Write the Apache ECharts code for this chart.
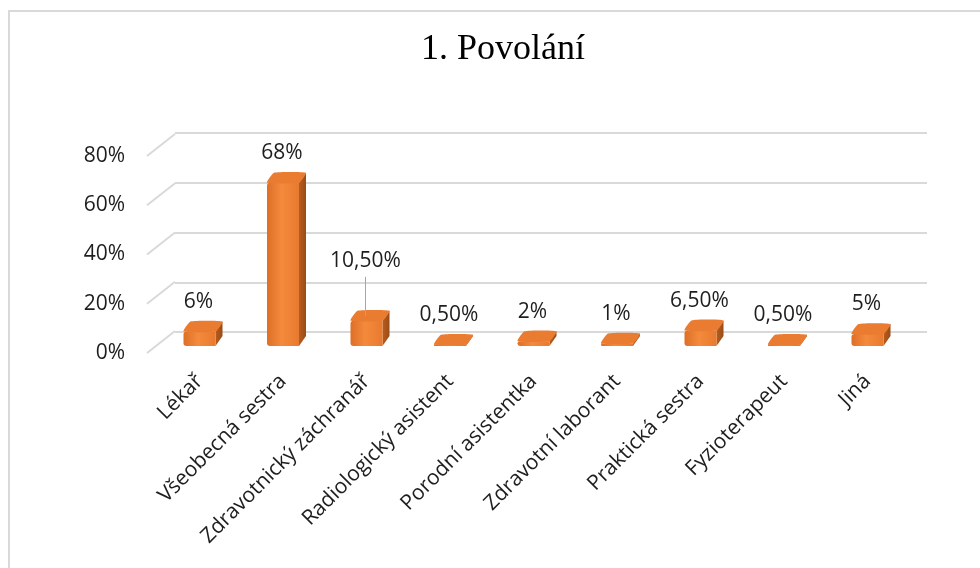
<!DOCTYPE html>
<html>

<head>
    <meta charset="utf-8" />
    <script src="https://cdn.jsdelivr.net/npm/echarts@6/dist/echarts.min.js"></script>
    <style>
        body { margin: 0; background: #fff; }
        #frame { position: absolute; left: 8px; top: 10px; width: 1000px; height: 600px; border: 2px solid #d9d9d9; box-sizing: border-box; }
        #main { position: absolute; left: 0; top: 0; width: 980px; height: 568px; }
    </style>
</head>

<body>
    <div id="frame"></div>
    <div id="main"></div>
    <script>
        // hodnoty z grafu
        var categories = ['Lékař', 'Všeobecná sestra', 'Zdravotnický záchranář', 'Radiologický asistent',
            'Porodní asistentka', 'Zdravotní laborant', 'Praktická sestra', 'Fyzioterapeut', 'Jiná'];
        var shares = [0.06, 0.68, 0.105, 0.005, 0.02, 0.01, 0.065, 0.005, 0.05];
        var valueLabels = ['6%', '68%', '10,50%', '0,50%', '2%', '1%', '6,50%', '0,50%', '5%'];
        var yTicks = [0, 0.2, 0.4, 0.6, 0.8];

        var font = '"Open Sans", sans-serif';
        var textColor = '#1e1e1e';
        var gridColor = '#d9d9d9';
        // popisek 10,50% je v originale posunuty nahoru s vodici carou
        var liftedIndex = 2, liftBy = 30;

        var myChart = echarts.init(document.getElementById('main'));

        function renderBar(params, api) {
            var i = api.value(0), v = api.value(1);
            var base = api.coord([i, 0]);
            var top = api.coord([i, v]);
            var w = 32, dx = 7, dy = -10;
            var x0 = base[0] - w / 2, x1 = base[0] + w / 2;
            var yb = base[1], yt = top[1];
            var children = [
                {
                    type: 'polygon',
                    shape: { points: [[x1, yb], [x1 + dx, yb + dy], [x1 + dx, yt + dy], [x1, yt]] },
                    style: {
                        fill: new echarts.graphic.LinearGradient(0, 0, 1, 0, [
                            { offset: 0, color: '#b85c1e' }, { offset: 1, color: '#9a4c16' }])
                    }
                },
                {
                    type: 'rect',
                    shape: { x: x0, y: yt, width: w, height: yb - yt, r: [3, 0, 0, 3] },
                    style: {
                        fill: new echarts.graphic.LinearGradient(0, 0, 1, 0, [
                            { offset: 0, color: '#dd6f27' }, { offset: 0.45, color: '#f48a3c' },
                            { offset: 1, color: '#e87a2f' }])
                    }
                },
                {
                    type: 'polygon',
                    shape: { points: [[x0, yt], [x0 + dx, yt + dy], [x1 + dx, yt + dy], [x1, yt]], smooth: 0.15 },
                    style: { fill: '#ea7c31' }
                }
            ];
            var labelBottom = yt + dy - 9;
            if (i === liftedIndex) {
                labelBottom -= liftBy;
                children.push({
                    type: 'line',
                    shape: { x1: base[0] - 1, y1: labelBottom + 5, x2: base[0] - 1, y2: yt + dy / 2 },
                    style: { stroke: '#a6a6a6', lineWidth: 1 }
                });
            }
            children.push({
                type: 'text',
                style: {
                    text: valueLabels[i], x: base[0] - 1, y: labelBottom,
                    align: 'center', verticalAlign: 'bottom',
                    font: '21px ' + font, fill: textColor
                }
            });
            return { type: 'group', children: children };
        }

        function renderDiagonal(params, api) {
            var p = api.coord([0, api.value(0)]);
            return {
                type: 'line',
                shape: { x1: p[0], y1: p[1], x2: p[0] + 28, y2: p[1] - 22 },
                style: { stroke: gridColor, lineWidth: 2 }
            };
        }

        var option = {
            animation: false,
            title: {
                text: '1. Povolání',
                left: 416,
                top: 27,
                textStyle: { fontFamily: '"Liberation Serif", serif', fontSize: 36, fontWeight: 'normal', color: '#000' }
            },
            grid: [
                // predni rovina (popisky osy y)
                { left: 147, right: 53, top: 156, bottom: 215 },
                // zadni stena s mrizkou
                { left: 175, right: 53, top: 133, bottom: 236 },
                // sloupce
                { left: 157.75, width: 751.5, top: 154, bottom: 222 }
            ],
            xAxis: [
                { gridIndex: 0, type: 'value', min: 0, max: 1, show: false },
                { gridIndex: 1, type: 'value', min: 0, max: 1, show: false },
                {
                    gridIndex: 2, type: 'category', data: categories,
                    axisLine: { show: false }, axisTick: { show: false },
                    axisLabel: { rotate: 45, margin: 32, interval: 0, fontFamily: font, fontSize: 21, color: textColor }
                }
            ],
            yAxis: [
                {
                    gridIndex: 0, type: 'value', min: 0, max: 0.8, interval: 0.2,
                    axisLine: { show: false }, axisTick: { show: false }, splitLine: { show: false },
                    axisLabel: {
                        margin: 22, fontFamily: font, fontSize: 21, color: textColor,
                        formatter: function (v) { return Math.round(v * 100) + '%'; }
                    }
                },
                {
                    gridIndex: 1, type: 'value', min: 0, max: 0.8, interval: 0.2,
                    axisLine: { show: false }, axisTick: { show: false }, axisLabel: { show: false },
                    splitLine: { lineStyle: { color: gridColor, width: 2 } }
                },
                { gridIndex: 2, type: 'value', min: 0, max: 0.8, show: false }
            ],
            series: [
                {
                    type: 'custom', xAxisIndex: 0, yAxisIndex: 0,
                    renderItem: renderDiagonal,
                    data: yTicks.map(function (v) { return [v]; })
                },
                {
                    type: 'custom', xAxisIndex: 2, yAxisIndex: 2,
                    renderItem: renderBar,
                    data: shares.map(function (v, i) { return [i, v]; })
                }
            ]
        };

        myChart.setOption(option);
    </script>
</body>

</html>
